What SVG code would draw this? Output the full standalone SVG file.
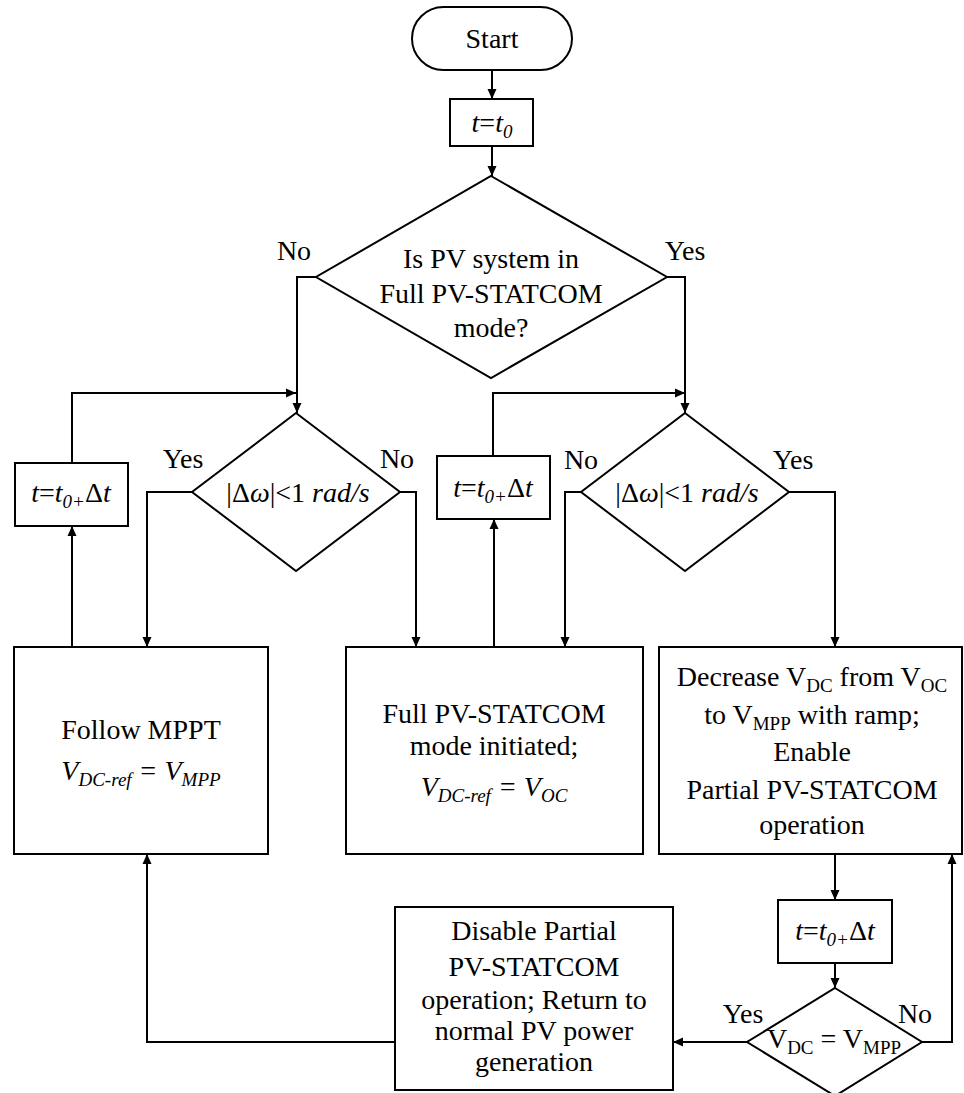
<svg xmlns="http://www.w3.org/2000/svg" width="964" height="1093" viewBox="0 0 964 1093" font-family="'Liberation Serif', 'Times New Roman', Times, 'Nimbus Roman', 'Nimbus Roman No9 L', FreeSerif, 'Noto Serif', 'DejaVu Serif', Tinos, serif" font-size="28">
<style>
.s{fill:#fff;stroke:#000;stroke-width:2}
.c{fill:none;stroke:#000;stroke-width:2}
.m{text-anchor:middle}
.i{font-style:italic}
.sb{font-size:19px}
</style>
<defs>
<marker id="a" markerUnits="userSpaceOnUse" markerWidth="10" markerHeight="10" refX="10" refY="5" orient="auto">
<path d="M0,0.5 L10,5 L0,9.5 z" fill="#000"/>
</marker>
</defs>
<rect width="964" height="1093" fill="#fff"/>
<g id="connectors" class="c" marker-end="url(#a)">
<path class="c" d="M492,70 V99"/>
<path class="c" d="M492,146 V176"/>
<path class="c" d="M316,277 H297 V413"/>
<path class="c" d="M667,277 H685 V413"/>
<path class="c" d="M72,463 V393 H296"/>
<path class="c" d="M493,456 V393 H685"/>
<path class="c" d="M192,492 H147 V647"/>
<path class="c" d="M400,492 H416 V647"/>
<path class="c" d="M581,492 H565 V647"/>
<path class="c" d="M789,492 H835 V647"/>
<path class="c" d="M72,647 V526"/>
<path class="c" d="M494,647 V519"/>
<path class="c" d="M835,854 V900"/>
<path class="c" d="M835,963 V988"/>
<path class="c" d="M747,1042 H673"/>
<path class="c" d="M922,1042 H952 V854"/>
<path class="c" d="M395,1042 H147 V854"/>
</g>
<g id="start">
<rect class="s" x="412" y="7" width="160" height="63" rx="31.5"/>
<text class="m" x="492" y="48">Start</text>
</g>
<g id="t0">
<rect class="s" x="450" y="99" width="83" height="47"/>
<text class="m" x="492" y="132"><tspan class="i">t</tspan>=<tspan class="i">t</tspan><tspan class="i sb" dy="6">0</tspan></text>
</g>
<g id="decision1">
<polygon class="s" points="491,176 667,277 491,378 316,277"/>
<text class="m" x="491" y="268">Is PV system in</text>
<text class="m" x="491" y="303">Full PV-STATCOM</text>
<text class="m" x="491" y="337">mode?</text>
<text class="m" x="294" y="260">No</text>
<text class="m" x="685" y="260">Yes</text>
</g>
<g id="decision2L">
<polygon class="s" points="296,413 400,492 296,571 192,492"/>
<text class="m" x="298" y="502">|Δ<tspan class="i">ω</tspan>|&lt;1 <tspan class="i">rad/s</tspan></text>
<text class="m" x="183" y="468">Yes</text>
<text class="m" x="397" y="468">No</text>
</g>
<g id="decision2R">
<polygon class="s" points="685,413 789,492 685,571 581,492"/>
<text class="m" x="687" y="502">|Δ<tspan class="i">ω</tspan>|&lt;1 <tspan class="i">rad/s</tspan></text>
<text class="m" x="581" y="469">No</text>
<text class="m" x="793" y="469">Yes</text>
</g>
<g id="tL">
<rect class="s" x="15" y="463" width="113" height="63"/>
<text class="m" x="71" y="502"><tspan class="i">t</tspan>=<tspan class="i">t</tspan><tspan class="i sb" dy="6">0+</tspan><tspan dy="-6">Δ</tspan><tspan class="i">t</tspan></text>
</g>
<g id="tM">
<rect class="s" x="437" y="456" width="113" height="63"/>
<text class="m" x="493" y="497"><tspan class="i">t</tspan>=<tspan class="i">t</tspan><tspan class="i sb" dy="6">0+</tspan><tspan dy="-6">Δ</tspan><tspan class="i">t</tspan></text>
</g>
<g id="followMPPT">
<rect class="s" x="14" y="647" width="254" height="207"/>
<text class="m" x="141" y="739">Follow MPPT</text>
<text class="m i" x="141" y="780">V<tspan class="sb" dy="6">DC-ref</tspan><tspan dy="-6"> = V</tspan><tspan class="sb" dy="6">MPP</tspan></text>
</g>
<g id="fullMode">
<rect class="s" x="346" y="647" width="297" height="207"/>
<text class="m" x="494" y="723">Full PV-STATCOM</text>
<text class="m" x="494" y="755">mode initiated;</text>
<text class="m i" x="494" y="796">V<tspan class="sb" dy="6">DC-ref</tspan><tspan dy="-6"> = V</tspan><tspan class="sb" dy="6">OC</tspan></text>
</g>
<g id="decrease">
<rect class="s" x="659" y="647" width="303" height="207"/>
<text class="m" x="812" y="686">Decrease V<tspan class="sb" dy="6">DC</tspan><tspan dy="-6"> from V</tspan><tspan class="sb" dy="6">OC</tspan></text>
<text class="m" x="812" y="724">to V<tspan class="sb" dy="6">MPP</tspan><tspan dy="-6"> with ramp;</tspan></text>
<text class="m" x="812" y="761">Enable</text>
<text class="m" x="812" y="799">Partial PV-STATCOM</text>
<text class="m" x="812" y="834">operation</text>
</g>
<g id="tR">
<rect class="s" x="778" y="900" width="114" height="63"/>
<text class="m" x="835" y="940"><tspan class="i">t</tspan>=<tspan class="i">t</tspan><tspan class="i sb" dy="6">0+</tspan><tspan dy="-6">Δ</tspan><tspan class="i">t</tspan></text>
</g>
<g id="decision3">
<polygon class="s" points="835,988 922,1042 835,1096 747,1042"/>
<text class="m" x="834" y="1048">V<tspan class="sb" dy="6">DC</tspan><tspan dy="-6"> = V</tspan><tspan class="sb" dy="6">MPP</tspan></text>
<text class="m" x="743" y="1023">Yes</text>
<text class="m" x="915" y="1023">No</text>
</g>
<g id="disable">
<rect class="s" x="395" y="907" width="278" height="183"/>
<text class="m" x="534" y="940">Disable Partial</text>
<text class="m" x="534" y="976">PV-STATCOM</text>
<text class="m" x="534" y="1009">operation; Return to</text>
<text class="m" x="534" y="1040">normal PV power</text>
<text class="m" x="534" y="1071">generation</text>
</g>
</svg>
